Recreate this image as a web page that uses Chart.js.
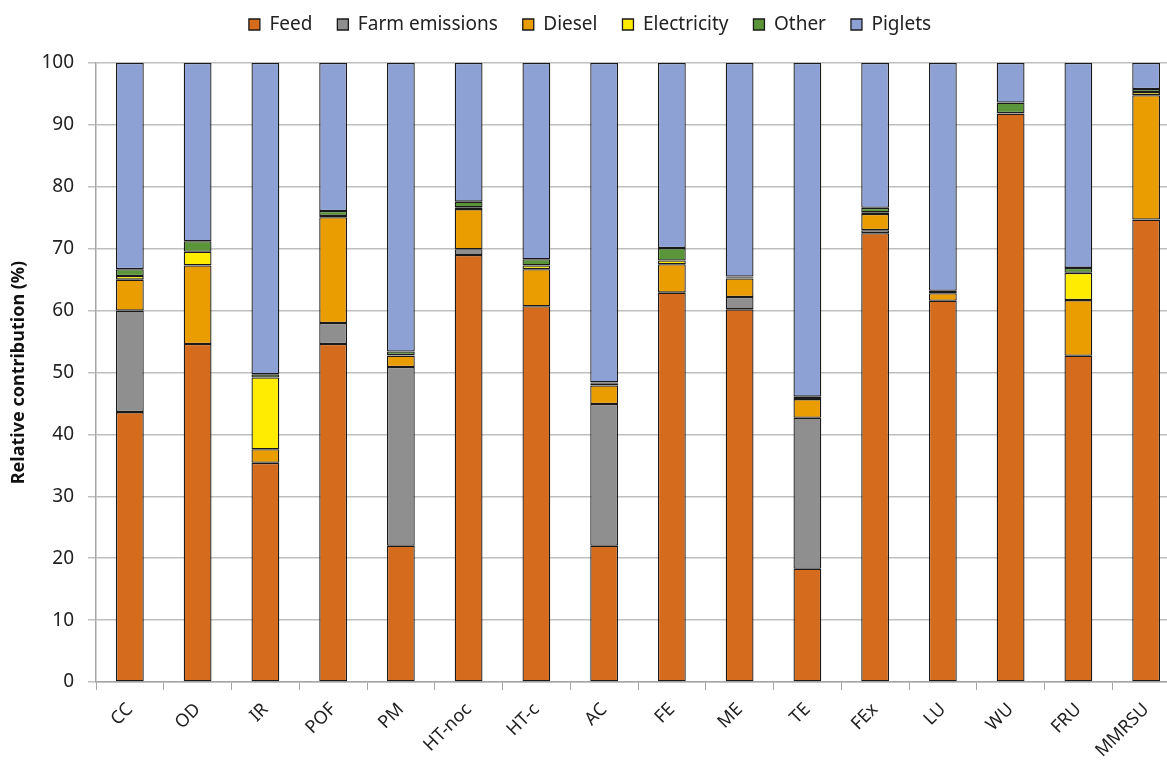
<!DOCTYPE html>
<html>
<head>
<meta charset="utf-8">
<script src="https://cdn.jsdelivr.net/npm/chart.js@4"></script>
<style>
  html, body { margin: 0; padding: 0; background: #fff; overflow: hidden; }
  #wrap { width: 1180px; height: 785px; }
</style>
</head>
<body>
<div id="wrap"><canvas id="chart" width="1180" height="785"></canvas></div>
<script>
const categories = ['CC', 'OD', 'IR', 'POF', 'PM', 'HT-noc', 'HT-c', 'AC', 'FE', 'ME', 'TE', 'FEx', 'LU', 'WU', 'FRU', 'MMRSU'];

const feed        = [43.6, 54.6, 35.4, 54.6, 22.0, 69.0, 60.7, 22.0, 62.9, 60.2, 18.3, 72.5, 61.6, 91.8, 52.7, 74.7];
const farmEmis    = [16.4, 0, 0, 3.4, 28.9, 0.9, 0, 22.9, 0, 2.0, 24.4, 0.5, 0, 0, 0, 0];
const diesel      = [5.0, 12.7, 2.2, 17.1, 1.8, 6.5, 6.0, 3.0, 4.6, 3.0, 3.0, 2.6, 1.2, 0.1, 9.0, 20.1];
const electricity = [0.6, 2.2, 11.6, 0.2, 0.1, 0.3, 0.6, 0.3, 0.6, 0.1, 0.2, 0.3, 0.2, 0, 4.4, 0.5];
const other       = [1.1, 1.7, 0.5, 0.8, 0.6, 0.9, 1.0, 0.2, 2.0, 0.2, 0.2, 0.7, 0.2, 1.7, 0.8, 0.5];
const piglets     = [33.3, 28.8, 50.3, 23.9, 46.6, 22.4, 31.7, 51.6, 29.9, 34.5, 53.9, 23.4, 36.8, 6.4, 33.1, 4.2];

const yTicks = [0, 10, 20, 30, 40, 50, 60, 70, 80, 90, 100];

const FONT = '"Noto Sans", "Open Sans", sans-serif';

function series(label, data, color) {
  return {
    label: label,
    data: data.map(v => (v === 0 ? null : v)),
    backgroundColor: color,
    borderColor: '#1a1a1a',
    borderWidth: 1.3,
    borderSkipped: false,
    barPercentage: 0.82,
    categoryPercentage: 0.5
  };
}

// legend height is fixed so the plot starts where the original one does
const legendSpace = {
  id: 'legendSpace',
  beforeLayout(chart) {
    const lg = chart.legend;
    if (lg && !lg._patched) {
      const fit = lg.fit;
      lg.fit = function () { fit.call(this); this.height = 73; };
      lg._patched = true;
    }
  }
};

const ctx = document.getElementById('chart').getContext('2d');
new Chart(ctx, {
  type: 'bar',
  data: {
    labels: categories,
    datasets: [
      series('Feed', feed, '#D56B1D'),
      series('Farm emissions', farmEmis, '#8F8F8F'),
      series('Diesel', diesel, '#EA9D00'),
      series('Electricity', electricity, '#FFEC00'),
      series('Other', other, '#5B953A'),
      series('Piglets', piglets, '#8DA1D5')
    ]
  },
  plugins: [legendSpace],
  options: {
    responsive: false,
    animation: false,
    layout: { padding: { top: -10, left: 0, right: 0, bottom: 0 } },
    plugins: {
      legend: {
        position: 'top',
        labels: {
          color: '#222',
          font: { family: FONT, size: 19 },
          boxWidth: 11,
          boxHeight: 11,
          padding: 25
        }
      },
      tooltip: { enabled: false }
    },
    scales: {
      x: {
        stacked: true,
        grid: {
          display: true,
          drawOnChartArea: false,
          tickLength: 8,
          color: '#A6A6A6',
          offset: true
        },
        border: { color: '#A6A6A6', width: 1.5 },
        ticks: {
          color: '#222',
          font: { family: FONT, size: 18 },
          minRotation: 45,
          maxRotation: 45,
          padding: 9,
          autoSkip: false
        },
        afterFit: s => { s.height = 103; }
      },
      y: {
        stacked: true,
        min: 0,
        max: 100,
        afterBuildTicks: s => { s.ticks = yTicks.map(v => ({ value: v })); },
        grid: {
          color: '#BFBFBF',
          lineWidth: 1.5,
          tickLength: 8
        },
        border: { color: '#A6A6A6', width: 1.5 },
        ticks: {
          color: '#222',
          font: { family: FONT, size: 19 },
          padding: 14
        },
        title: {
          display: true,
          text: 'Relative contribution (%)',
          color: '#111',
          font: { family: FONT, size: 18, weight: 'bold' },
          padding: { top: 8, bottom: 0 }
        },
        afterFit: s => { s.width = 96; }
      }
    }
  }
});
</script>
</body>
</html>
